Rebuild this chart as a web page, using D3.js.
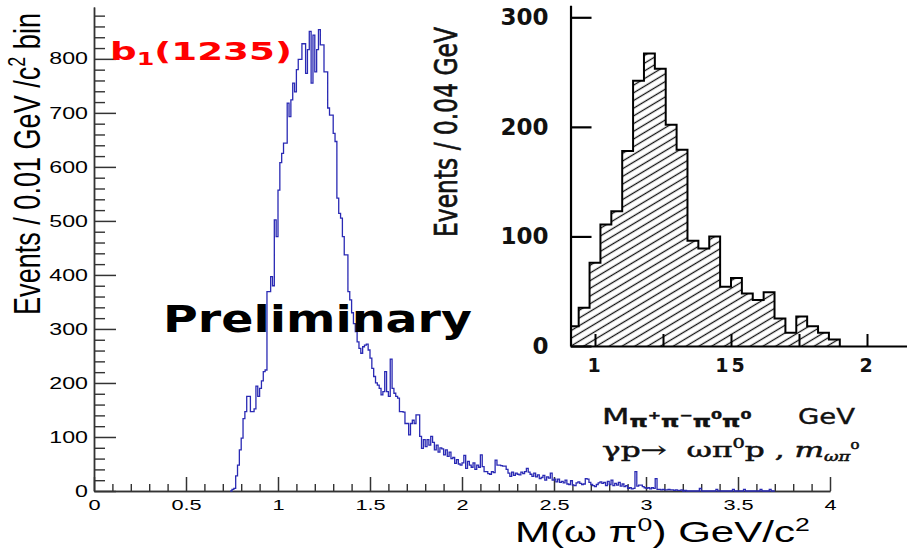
<!DOCTYPE html>
<html><head><meta charset="utf-8">
<script src="https://cdn.jsdelivr.net/npm/d3@7"></script>
<style>body{margin:0;background:#fff;} svg{display:block}</style>
</head><body>
<script>
// ---------------- DATA ----------------
const mainBinStart = 0.74;
const mainBinWidth = 0.01;
const mainCounts = [
  0,3,5,28,48,76,98,134,147,175,
  175,147,147,152,194,175,190,204,221,224,
  369,369,397,380,502,471,557,608,625,644,
  644,718,693,724,755,739,780,799,799,828,
  828,773,817,851,755,844,776,817,854,826,
  826,776,776,709,696,696,662,647,542,514,
  505,471,437,437,369,354,330,310,295,276,
  264,255,267,270,272,261,246,227,212,200,
  196,190,178,184,221,184,175,244,190,181,
  175,172,147,147,146,125,125,104,125,131,
  125,141,141,101,79,95,82,95,85,101,
  90,76,85,72,80,78,67,76,64,72,
  60,62,51,58,50,48,52,66,42,55,
  48,44,52,40,48,44,67,45,36,36,
  32,31,36,34,57,48,48,47,46,46,
  40,33,27,35,29,33,31,30,35,32,
  36,42,35,31,27,33,26,30,23,25,
  29,20,26,24,33,20,22,17,22,16,
  18,15,20,13,12,19,11,10,15,17,
  14,12,13,23,22,16,12,10,8,12,
  15,17,14,16,10,18,12,20,10,14,
  11,16,9,13,8,10,5,6,4,5,
  36,9,11,11,8,6,5,6,4,6,
  5,23,3,3,2,3,2,2,3,2,
  2,1,2,1,1,2,0,1,0,0,
  0,0,0,0,0,5,0,0,0,0,
  0,0,0,0,3,0,0,0,0,0,
  0,0,0,3,0,0,0,0,0,3,
  0,0,0,0,0,0,0,0,3,0,
  0,0,0,3,0,0
];
const mainXTicks = [0,0.5,1,1.5,2,2.5,3,3.5,4];
const mainXTickLabels = ["0","0.5","1","1.5","2","2.5","3","3.5","4"];
const mainYTicks = [0,100,200,300,400,500,600,700,800];
const mainYTickLabels = ["0","100","200","300","400","500","600","700","800"];

const insetBinStart = 0.90;
const insetBinWidth = 0.04;
const insetCounts = [18,35,76,111,123,178,242,267,253,202,179,96,89,100,54,62,48,42,49,25,12,27,18,12,6];
const insetYTicks = [0,100,200,300];
const insetYTickLabels = ["0","100","200","300"];
const insetXTicks = [1,1.25,1.5,1.75,2];
const insetXTickLabels = ["1","","15","","2"];

// ---------------- CHART ----------------
const W = 907, H = 549;
const svg = d3.select("body").append("svg").attr("width", W).attr("height", H);
const defs = svg.append("defs");
const SANS = "'Liberation Sans', Arial, Helvetica, sans-serif";
const DJ = "'DejaVu Sans', sans-serif";

// main scales
const x = d3.scaleLinear().domain([0, 4]).range([94, 830]);
const y = d3.scaleLinear().domain([0, 896]).range([491, 7]);

const axisColor = "#333";
const TSX = 1.45;

// x axis minor
const minorX = d3.range(0, 41).map(i => i / 10).filter(v => !mainXTicks.some(t => Math.abs(t - v) < 1e-6));
svg.append("g").attr("transform", "translate(0,491)")
  .call(d3.axisBottom(x).tickValues(minorX).tickSizeInner(-7).tickSizeOuter(0).tickFormat(""))
  .call(g => g.selectAll("line,path").attr("stroke", axisColor).attr("stroke-width", 1.4));
const gx = svg.append("g").attr("transform", "translate(0,491)")
  .call(d3.axisBottom(x).tickValues(mainXTicks).tickSizeInner(-14).tickSizeOuter(0).tickPadding(8)
    .tickFormat((d, i) => mainXTickLabels[i]));
gx.selectAll("line,path").attr("stroke", axisColor).attr("stroke-width", 1.5);
gx.selectAll("text").attr("font-family", SANS).attr("font-size", 15).attr("fill", "#000")
  .attr("transform", `scale(${TSX},1)`);

// y axis
const minorY = d3.range(0, 45).map(i => i * 20).filter(v => v % 100 !== 0);
svg.append("g").attr("transform", "translate(94,0)")
  .call(d3.axisLeft(y).tickValues(minorY).tickSizeInner(-11).tickSizeOuter(0).tickFormat(""))
  .call(g => g.selectAll("line,path").attr("stroke", axisColor).attr("stroke-width", 1.4));
const gy = svg.append("g").attr("transform", "translate(94,0)")
  .call(d3.axisLeft(y).tickValues(mainYTicks).tickSizeInner(-22).tickSizeOuter(0).tickPadding(6)
    .tickFormat((d, i) => mainYTickLabels[i]));
gy.selectAll("line,path").attr("stroke", axisColor).attr("stroke-width", 1.5);
gy.selectAll("text").attr("font-family", SANS).attr("font-size", 16).attr("fill", "#000")
  .attr("x", 0).attr("transform", `translate(-6,0) scale(${TSX},1)`);

// main histogram
const mainPts = [[mainBinStart, 0]];
mainCounts.forEach((v, i) => mainPts.push([mainBinStart + i * mainBinWidth, v]));
const mainEnd = mainBinStart + mainCounts.length * mainBinWidth;
mainPts.push([mainEnd, mainCounts[mainCounts.length - 1]]);
mainPts.push([mainEnd, 0]);
svg.append("path")
  .attr("d", d3.line().x(d => x(d[0])).y(d => y(d[1])).curve(d3.curveStepAfter)(mainPts))
  .attr("fill", "none").attr("stroke", "#2a2ab4").attr("stroke-width", 1.3);

// Y title
{
  const t = svg.append("text").attr("font-family", SANS).attr("font-size", 27)
    .attr("text-anchor", "middle").style("white-space", "pre").attr("fill", "#000");
  t.append("tspan").text("Events / 0.01 GeV /c");
  t.append("tspan").attr("font-size", 18).attr("dy", -11).text("2");
  t.append("tspan").attr("dy", 11).text(" bin");
  const L = t.node().getComputedTextLength();
  t.attr("transform", `translate(40,164) scale(1.37,${302 / L}) rotate(-90)`);
}

// X title
{
  const t = svg.append("text").attr("font-family", SANS).attr("font-size", 30)
    .style("white-space", "pre").attr("fill", "#000");
  t.append("tspan").text("M(\u03C9 \u03C0");
  t.append("tspan").attr("font-size", 19).attr("dy", -11).text("0");
  t.append("tspan").attr("dy", 11).text(") GeV/c");
  t.append("tspan").attr("font-size", 19).attr("dy", -11).text("2");
  const w = t.node().getBBox().width;
  t.attr("transform", `translate(515,542) scale(${295 / w},1)`);
}

// b1(1235)
{
  const t = svg.append("text").attr("font-family", DJ).attr("font-weight", "bold")
    .attr("font-size", 25).attr("fill", "#ff0000");
  t.append("tspan").text("b");
  t.append("tspan").attr("font-size", 17).attr("dy", 5).text("1");
  t.append("tspan").attr("dy", -5).text("(1235)");
  const w = t.node().getBBox().width;
  t.attr("transform", `translate(110,60) scale(${182 / w},1)`);
}

// Preliminary
{
  const t = svg.append("text").attr("font-family", DJ).attr("font-weight", "bold")
    .attr("font-size", 37).attr("fill", "#000").text("Preliminary");
  const w = t.node().getBBox().width;
  t.attr("transform", `translate(163,332) scale(${309 / w},1)`);
}

// ---------------- INSET ----------------
const ix = d3.scaleLinear().domain([0.91, 2.23]).range([595 - 0.09 * 272, 595 + 1.23 * 272]);
const iy = d3.scaleLinear().domain([0, 311]).range([346, 346 - 311 * 1.0957]);

const pat = defs.append("pattern").attr("id", "hatch").attr("patternUnits", "userSpaceOnUse")
  .attr("width", 10).attr("height", 6.6).attr("patternTransform", "rotate(-31)");
pat.append("line").attr("x1", 0).attr("x2", 10).attr("y1", 3.3).attr("y2", 3.3)
  .attr("stroke", "#111").attr("stroke-width", 1.3);

defs.append("clipPath").attr("id", "insetClip").append("rect")
  .attr("x", ix(0.91)).attr("y", 0).attr("width", W).attr("height", 360);

const insetPts = insetCounts.map((v, i) => [insetBinStart + i * insetBinWidth, v]);
const insetEnd = insetBinStart + insetCounts.length * insetBinWidth;
insetPts.push([insetEnd, insetCounts[insetCounts.length - 1]]);

const ig = svg.append("g").attr("clip-path", "url(#insetClip)");
ig.append("path")
  .attr("d", d3.area().x(d => ix(d[0])).y0(iy(0)).y1(d => iy(d[1])).curve(d3.curveStepAfter)(insetPts))
  .attr("fill", "url(#hatch)").attr("stroke", "none");
const outline = [[insetBinStart, 0], ...insetPts, [insetEnd, 0]];
ig.append("path")
  .attr("d", d3.line().x(d => ix(d[0])).y(d => iy(d[1])).curve(d3.curveStepAfter)(outline))
  .attr("fill", "none").attr("stroke", "#000").attr("stroke-width", 2);

// inset axes
const iga = svg.append("g").attr("transform", `translate(${ix(0.91)},0)`)
  .call(d3.axisLeft(iy).tickValues(insetYTicks).tickSizeInner(-21).tickSizeOuter(0).tickPadding(22)
    .tickFormat((d, i) => insetYTickLabels[i]));
iga.selectAll("line,path").attr("stroke", "#000").attr("stroke-width", 2.2);
iga.selectAll("text").attr("font-family", DJ).attr("font-weight", "bold").attr("font-size", 23).attr("fill", "#111");

const igb = svg.append("g").attr("transform", `translate(0,${iy(0)})`)
  .call(d3.axisBottom(ix).tickValues(insetXTicks).tickSizeInner(-12).tickSizeOuter(0).tickPadding(13)
    .tickFormat((d, i) => insetXTickLabels[i]));
igb.selectAll("line,path").attr("stroke", "#000").attr("stroke-width", 2);
igb.selectAll("text").attr("font-family", DJ).attr("font-weight", "bold").attr("font-size", 19)
  .attr("fill", "#111").attr("letter-spacing", 3);

// inset y title
{
  const t = svg.append("text").attr("font-family", DJ).attr("font-size", 23)
    .attr("text-anchor", "middle").attr("fill", "#111").attr("stroke", "#111").attr("stroke-width", 0.5)
    .text("Events / 0.04 GeV");
  const L = t.node().getComputedTextLength();
  t.attr("transform", `translate(457,132) scale(1.4,${210 / L}) rotate(-90)`);
}

// inset caption line 1
{
  const t = svg.append("text").attr("font-family", DJ).attr("font-size", 22).attr("fill", "#111")
    .attr("stroke", "#111").attr("stroke-width", 0.4);
  t.append("tspan").text("M");
  const parts = [["\u03C0", "+"], ["\u03C0", "\u2212"], ["\u03C0", "0"], ["\u03C0", "0"]];
  parts.forEach(([a, b], i) => {
    t.append("tspan").attr("font-size", 16).attr("font-weight", "bold").attr("dy", i === 0 ? 3 : 8).text(a);
    t.append("tspan").attr("font-size", 11).attr("font-weight", "bold").attr("dy", -8).text(b);
  });
  const w = t.node().getBBox().width;
  t.attr("transform", `translate(602,424) scale(${150 / w},1)`);
  const g = svg.append("text").attr("font-family", DJ).attr("font-size", 22).attr("fill", "#111")
    .attr("stroke", "#111").attr("stroke-width", 0.4).text("GeV");
  const w2 = g.node().getBBox().width;
  g.attr("transform", `translate(798,424) scale(${57 / w2},1)`);
}

// inset caption line 2
{
  const t = svg.append("text").attr("font-family", "'DejaVu Serif', 'Liberation Serif', serif")
    .attr("font-size", 21).attr("fill", "#111").attr("stroke", "#111").attr("stroke-width", 0.5)
    .style("white-space", "pre");
  t.append("tspan").text("\u03B3p\u2192  \u03C9\u03C0");
  t.append("tspan").attr("font-size", 13).attr("dy", -9).text("0");
  t.append("tspan").attr("dy", 9).text("p , ");
  t.append("tspan").attr("font-style", "italic").text("m");
  t.append("tspan").attr("font-size", 12).attr("font-style", "italic").attr("dy", 4).text("\u03C9\u03C0");
  t.append("tspan").attr("font-size", 10).attr("dy", -12).text("0");
  const w = t.node().getBBox().width;
  t.attr("transform", `translate(602,457) scale(${258 / w},1)`);
}
</script>
</body></html>
